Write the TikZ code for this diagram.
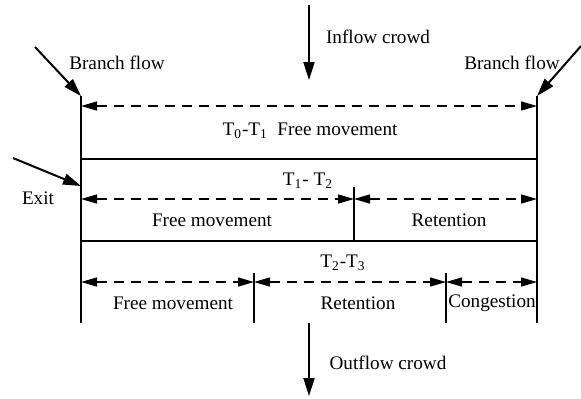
\documentclass[tikz,border=0pt]{standalone}
\usepackage{fontspec}
\setmainfont{Liberation Serif}
\usetikzlibrary{arrows.meta}

\begin{document}
\begin{tikzpicture}
[
    x=0.5pt,y=-0.5pt,
    every node/.style={font=\fontsize{9.6}{11}\selectfont},
    wall/.style={line width=1pt},
    span/.style={dashed,dash pattern=on 5pt off 3.5pt,line width=0.7pt,
      {Triangle[length=8pt,width=4.5pt]}-{Triangle[length=8pt,width=4.5pt]}},
    flow/.style={line width=1pt,-{Triangle[length=9pt,width=5.5pt]}}
]
\useasboundingbox (0,0) rectangle (581,398);

% walls
\coordinate (LT) at (81,96);
\coordinate (LB) at (81,323);
\coordinate (RT) at (537,96);
\coordinate (RB) at (537,323);
\draw[wall] (LT) -- (LB);
\draw[wall] (RT) -- (RB);
\draw[wall] (81,159) coordinate (s1L) -- (537,159) coordinate (s1R);
\draw[wall] (81,241) coordinate (s2L) -- (537,241) coordinate (s2R);

% dividers
\draw[wall] (354,187) coordinate (d1T) -- (354,241) coordinate (d1B);
\draw[wall] (254,273) coordinate (d2T) -- (254,323) coordinate (d2B);
\draw[wall] (446,273) coordinate (d3T) -- (446,323) coordinate (d3B);

% T0-T1
\draw[span] (81,106) coordinate (a0) -- (537,106) coordinate (a1);
\node (t01) at (310,131) {T\textsubscript{0}-T\textsubscript{1}\ \ Free movement};

% T1-T2
\node (t12) at (308,181) {T\textsubscript{1}- T\textsubscript{2}};
\coordinate (b0) at (81,199);
\coordinate (b1) at (354,199);
\coordinate (b2) at (537,199);
\draw[span] (b0) -- (b1);
\draw[span] (b1) -- (b2);
\node (free2) at (212,220) {Free movement};
\node (ret2) at (449,220) {Retention};

% T2-T3
\node (t23) at (343,263) {T\textsubscript{2}-T\textsubscript{3}};
\coordinate (c0) at (81,282);
\coordinate (c1) at (254,282);
\coordinate (c2) at (446,282);
\coordinate (c3) at (537,282);
\draw[span] (c0) -- (c1);
\draw[span] (c1) -- (c2);
\draw[span] (c2) -- (c3);
\node (free3) at (173,303) {Free movement};
\node (ret3) at (358,303) {Retention};
\node (cong3) at (492,303) {Congestion};

% crowds
\coordinate (inS) at (309,5);
\coordinate (inE) at (309,80);
\draw[flow] (inS) -- (inE);
\node (inflow) at (378,37) {Inflow crowd};
\coordinate (outS) at (309,323);
\coordinate (outE) at (309,396);
\draw[flow] (outS) -- (outE);
\node (outflow) at (388,363) {Outflow crowd};

% branches and exit
\coordinate (brL) at (35,47);
\coordinate (brR) at (581,46);
\coordinate (exS) at (13,158);
\coordinate (exE) at (81,186);
\draw[flow] (brL) -- (LT);
\node (bfL) at (117,63) {Branch flow};
\draw[flow] (brR) -- (RT);
\node (bfR) at (512,63) {Branch flow};
\draw[flow] (exS) -- (exE);
\node (exit) at (38,198) {Exit};
\end{tikzpicture}
\end{document}
